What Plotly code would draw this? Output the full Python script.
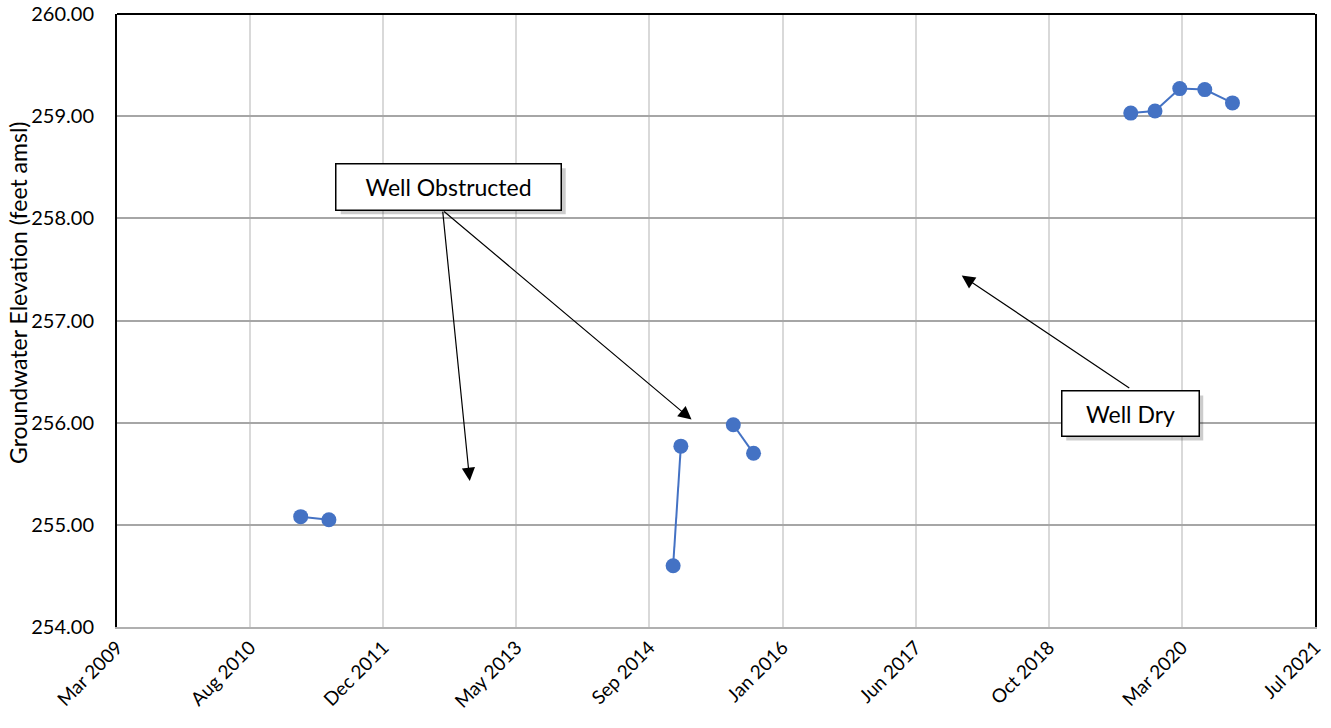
import plotly.graph_objects as go
import pandas as pd

# ---- data ----
sample_dates = ["2011-02-16", "2011-06-02", "2012-09-01",
                "2014-12-16", "2015-01-14", "2015-04-20",
                "2015-07-30", "2015-10-14", "2017-10-01",
                "2019-08-31", "2019-11-30", "2020-03-02", "2020-06-04", "2020-09-16"]
gw_elev = [255.08, 255.05, None,
           254.60, 255.77, None,
           255.98, 255.70, None,
           259.03, 259.05, 259.27, 259.26, 259.13]

x_start = "2009-03-28"
x_end = "2021-07-23"
tick_labels = ["Mar 2009", "Aug 2010", "Dec 2011", "May 2013", "Sep 2014",
               "Jan 2016", "Jun 2017", "Oct 2018", "Mar 2020", "Jul 2021"]
y_ticks = [254, 255, 256, 257, 258, 259, 260]
y_title = "Groundwater Elevation (feet amsl)"

tick_dates = pd.date_range(x_start, periods=len(tick_labels), freq="500D")

FONT = "Lato"
BLUE = "#4472C4"

fig = go.Figure()
fig.add_trace(go.Scatter(
    x=pd.to_datetime(sample_dates), y=gw_elev, mode="lines+markers",
    connectgaps=False,
    line=dict(color=BLUE, width=2),
    marker=dict(color=BLUE, size=15),
    showlegend=False, hoverinfo="x+y"))

fig.update_layout(
    width=1331, height=728,
    margin=dict(l=117, r=16, t=14, b=101, autoexpand=False),
    paper_bgcolor="white", plot_bgcolor="white",
    font=dict(family=FONT, color="black"),
    xaxis=dict(
        type="date", range=[x_start, x_end], automargin=False,
        tickmode="array", tickvals=tick_dates, ticktext=tick_labels,
        tickangle=-45, tickfont=dict(size=19, family=FONT),
        showgrid=True, gridcolor="#d9d9d9", gridwidth=2,
        showline=True, linecolor="#b0b0b0", linewidth=2,
        ticks="", zeroline=False),
    yaxis=dict(
        range=[254, 260], tickmode="array", tickvals=y_ticks, automargin=False,
        tickformat=".2f", tickfont=dict(size=20, family=FONT),
        showgrid=True, gridcolor="#a6a6a6", gridwidth=2,
        showline=True, linecolor="black", linewidth=2, mirror=True,
        ticks="outside", ticklen=0, tickcolor="white", ticklabelstandoff=17,
        ticklabeloverflow="allow", zeroline=False),
    shapes=[dict(type="line", xref="paper", yref="paper", x0=0, x1=1, y0=1, y1=1,
                 line=dict(color="black", width=2))],
)

# y-axis title
fig.add_annotation(x=0, y=0.545, xref="paper", yref="paper", text=y_title,
                   textangle=-90, showarrow=False, xanchor="center", yanchor="middle",
                   xshift=-99, font=dict(size=23, family=FONT))

# arrows
arrow_common = dict(xref="x", yref="y", axref="x", ayref="y", text="",
                    showarrow=True, arrowhead=2, arrowsize=2.2, arrowwidth=1.2,
                    arrowcolor="black", standoff=0, startstandoff=0)
fig.add_annotation(x="2012-11-12", y=255.43, ax="2012-08-02", ay=258.08, **arrow_common)
fig.add_annotation(x="2015-02-23", y=256.03, ax="2012-08-02", ay=258.08, **arrow_common)
fig.add_annotation(x="2017-12-04", y=257.44, ax="2019-08-31", ay=256.33, **arrow_common)

# text boxes with shadow
def box(xc, yc, text, w, h):
    fig.add_shape(type="rect", xref="x", yref="y", xsizemode="pixel", ysizemode="pixel",
                  xanchor=xc, yanchor=yc,
                  x0=-w / 2 + 4, x1=w / 2 + 5, y0=-h / 2 - 5, y1=h / 2 - 4,
                  fillcolor="rgba(0,0,0,0.2)", line=dict(width=0), layer="above")
    fig.add_annotation(x=xc, y=yc, xref="x", yref="y", text=text, showarrow=False,
                       font=dict(size=23, family=FONT, color="black"),
                       width=w, height=h, borderpad=0, bgcolor="white",
                       bordercolor="black", borderwidth=1.5)

box("2012-08-25", 258.31, "Well Obstructed", 224, 45)
box("2019-08-29", 256.09, "Well Dry", 136, 44)

fig.write_html("out.html", config={"displayModeBar": False},
               post_script="document.body.style.margin='0px';")
